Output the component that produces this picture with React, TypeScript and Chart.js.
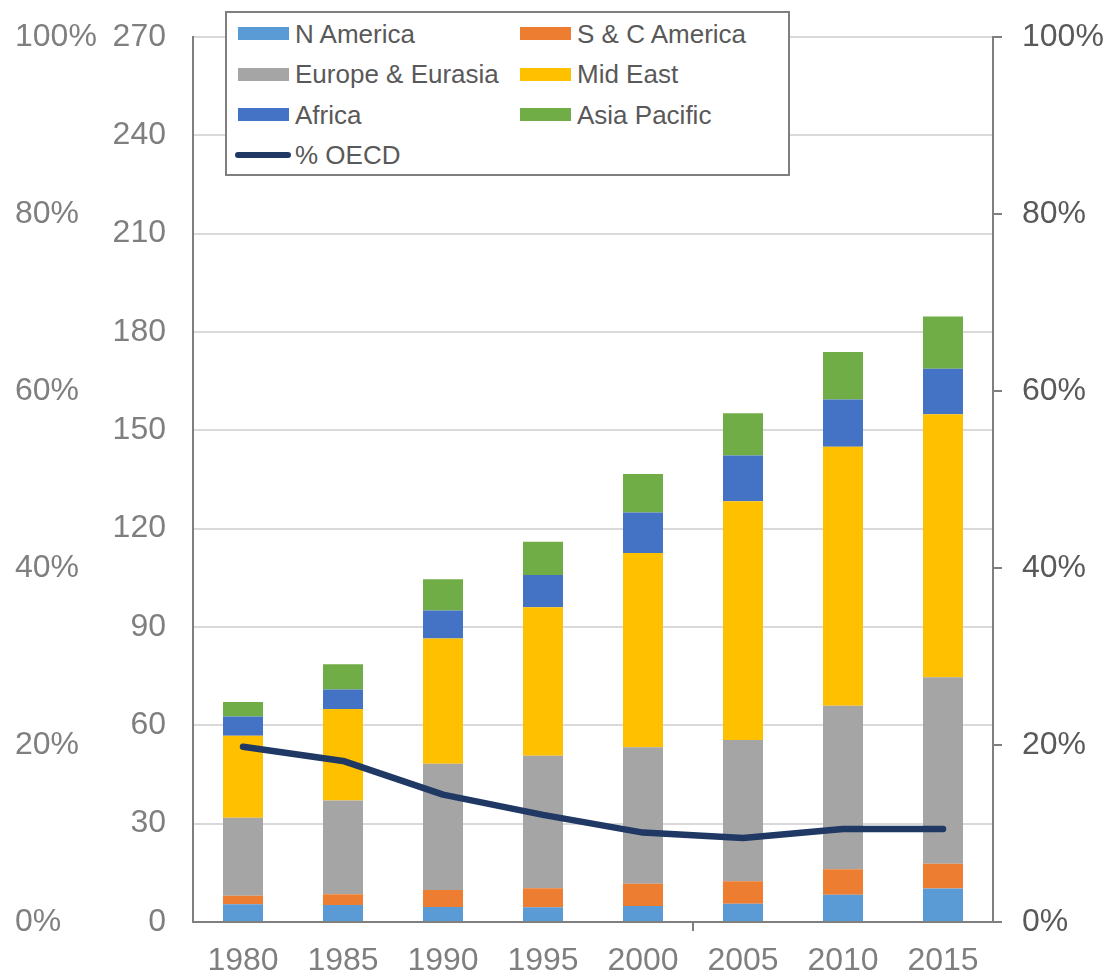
import React, { useEffect, useRef } from "react";
import { Chart, registerables } from "chart.js";

Chart.register(...registerables);

const years = ["1980", "1985", "1990", "1995", "2000", "2005", "2010", "2015"];
const nAmerica = [5.4, 5.2, 4.6, 4.5, 4.9, 5.6, 8.3, 10.2];
const scAmerica = [2.6, 3.3, 5.2, 5.8, 6.8, 6.8, 7.8, 7.6];
const europeEurasia = [23.8, 28.6, 38.5, 40.4, 41.6, 43.1, 49.9, 56.9];
const midEast = [25.0, 27.9, 38.2, 45.3, 59.3, 72.9, 79.0, 80.2];
const africa = [5.9, 5.9, 8.5, 9.9, 12.3, 13.9, 14.4, 13.9];
const asiaPacific = [4.4, 7.7, 9.6, 10.1, 11.8, 12.9, 14.5, 15.9];
const pctOECD = [0.198, 0.182, 0.144, 0.121, 0.101, 0.095, 0.105, 0.105];

const barSeries = [
  { label: "N America", data: nAmerica, color: "#5B9BD5" },
  { label: "S & C America", data: scAmerica, color: "#ED7D31" },
  { label: "Europe & Eurasia", data: europeEurasia, color: "#A5A5A5" },
  { label: "Mid East", data: midEast, color: "#FFC000" },
  { label: "Africa", data: africa, color: "#4472C4" },
  { label: "Asia Pacific", data: asiaPacific, color: "#70AD47" },
];
const lineSeries = { label: "% OECD", data: pctOECD, color: "#203864" };

const FONT = "'Liberation Sans', Arial, sans-serif";
const AXIS = "#7f7f7f";

const noPad = (s: any) => {
  s.paddingTop = 0;
  s.paddingBottom = 0;
  s.paddingLeft = 0;
  s.paddingRight = 0;
};

export default function App() {
  const ref = useRef<HTMLCanvasElement | null>(null);

  useEffect(() => {
    document.body.style.margin = "0";
    const canvas = ref.current;
    if (!canvas) return;
    const chart = new Chart(canvas, {
      type: "bar",
      data: {
        labels: years,
        datasets: [
          ...barSeries.map((s) => ({
            type: "bar" as const,
            label: s.label,
            data: s.data,
            backgroundColor: s.color,
            borderWidth: 0,
            stack: "s",
            yAxisID: "y",
            order: 1,
            barPercentage: 0.4,
            categoryPercentage: 1,
          })),
          {
            type: "line" as const,
            label: lineSeries.label,
            data: lineSeries.data,
            borderColor: lineSeries.color,
            backgroundColor: lineSeries.color,
            borderWidth: 6.5,
            pointRadius: 0,
            borderCapStyle: "round",
            borderJoinStyle: "round",
            tension: 0,
            yAxisID: "yR",
            order: 0,
          } as any,
        ],
      },
      options: {
        responsive: false,
        animation: false,
        devicePixelRatio: 1,
        layout: { padding: { top: 37, left: 15, right: 0, bottom: 0 } },
        plugins: { legend: { display: false }, tooltip: { enabled: false } },
        scales: {
          x: {
            stacked: true,
            grid: {
              offset: true,
              drawOnChartArea: false,
              drawTicks: true,
              tickLength: 9,
              lineWidth: 2,
              color: (ctx: any) => (ctx.index === 5 ? AXIS : "rgba(0,0,0,0)"),
            },
            border: { color: AXIS, width: 2 },
            ticks: { color: AXIS, font: { family: FONT, size: 32 }, padding: 11, maxRotation: 0 },
            afterFit: (s: any) => {
              s.height = 53;
              noPad(s);
            },
          },
          yP: {
            position: "left",
            weight: 1,
            min: 0,
            max: 1,
            grid: { display: false },
            border: { display: false },
            ticks: {
              stepSize: 0.2,
              crossAlign: "far",
              color: AXIS,
              font: { family: FONT, size: 32 },
              callback: (v: any) => Math.round(Number(v) * 100) + "%",
            },
            afterFit: (s: any) => {
              s.width = 85;
              noPad(s);
            },
          },
          y: {
            position: "left",
            weight: 0,
            stacked: true,
            min: 0,
            max: 270,
            grid: { color: "#d9d9d9", lineWidth: 2, drawTicks: false },
            border: { color: AXIS, width: 2 },
            ticks: {
              stepSize: 30,
              color: AXIS,
              padding: 27,
              font: { family: FONT, size: 32 },
            },
            afterFit: (s: any) => {
              s.width = 93;
              noPad(s);
            },
          },
          yR: {
            position: "right",
            min: 0,
            max: 1,
            grid: { drawOnChartArea: false, drawTicks: true, tickLength: 9, color: AXIS, lineWidth: 2 },
            border: { color: AXIS, width: 2 },
            ticks: {
              stepSize: 0.2,
              color: "#595959",
              padding: 20,
              font: { family: FONT, size: 32 },
              callback: (v: any) => Math.round(Number(v) * 100) + "%",
            },
            afterFit: (s: any) => {
              s.width = 125;
              noPad(s);
            },
          },
        },
      } as any,
    });
    return () => chart.destroy();
  }, []);

  const legendItems = [
    ...barSeries.map((s) => ({ label: s.label, color: s.color, line: false })),
    { label: lineSeries.label, color: lineSeries.color, line: true },
  ];

  return (
    <div style={{ position: "relative", width: 1118, height: 975, background: "#fff" }}>
      <canvas ref={ref} width={1118} height={975} style={{ display: "block" }} />
      <div
        style={{
          position: "absolute",
          left: 225,
          top: 11,
          width: 565,
          height: 165,
          boxSizing: "border-box",
          border: "2px solid #7f7f7f",
          background: "#fff",
        }}
      >
        {legendItems.map((it, i) => {
          const col = i % 2;
          const row = Math.floor(i / 2);
          const top = 0.7 + row * 40.4;
          const left = col === 0 ? 11 : 293;
          return (
            <div key={it.label} style={{ position: "absolute", left, top, height: 40, display: "flex", alignItems: "center" }}>
              {it.line ? (
                <div style={{ width: 56, height: 6, borderRadius: 3, background: it.color, marginLeft: -3, marginRight: 4 }} />
              ) : (
                <div style={{ width: 51, height: 13, background: it.color, marginRight: 6 }} />
              )}
              <span style={{ fontFamily: FONT, fontSize: 26, color: "#595959", whiteSpace: "nowrap", lineHeight: "40px" }}>{it.label}</span>
            </div>
          );
        })}
      </div>
    </div>
  );
}
